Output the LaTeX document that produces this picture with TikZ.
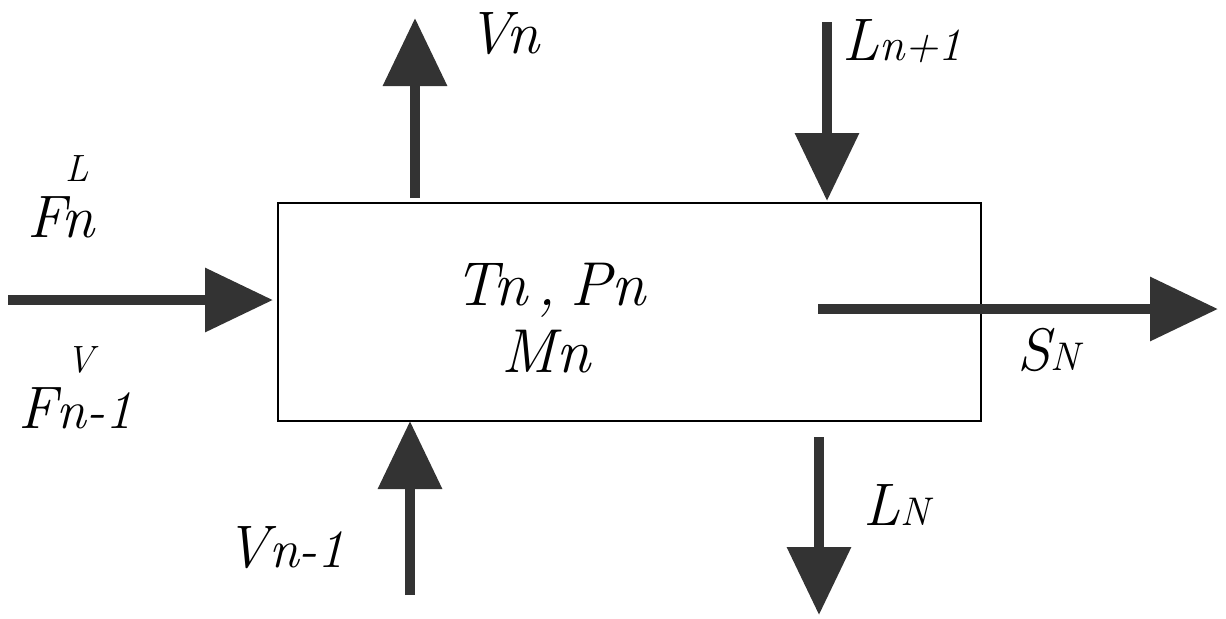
\documentclass[tikz,border=0pt]{standalone}
\usetikzlibrary{arrows.meta}
\definecolor{flowgray}{gray}{0.2}
\begin{document}
\begin{tikzpicture}[x=0.5pt,y=-0.5pt,
  flow/.style={draw=flowgray, line width=5pt, -{Triangle[length=34pt,width=31pt]}},
  boxst/.style={draw=black, line width=0.8pt, inner sep=0pt, minimum width=351.5pt, minimum height=109pt},
  lbl/.style={font=\fontsize{30}{34}\selectfont\itshape, inner sep=0pt, anchor=base west},
  sup/.style={font=\fontsize{19}{21}\selectfont\itshape, inner sep=0pt, anchor=base west},
  mid/.style={font=\fontsize{31}{34}\selectfont\itshape, inner sep=0pt, anchor=base}
]
\path[use as bounding box] (0,0) rectangle (1226,618);
% box
\node[boxst] (box) at (629.5,312) {};
% coordinates
\coordinate (vnS) at (415,198);
\coordinate (vnE) at (415,18);
\coordinate (lnS) at (827,22);
\coordinate (lnE) at (827,201);
\coordinate (fS) at (8,300);
\coordinate (fE) at (273,300);
\coordinate (vmS) at (410,595);
\coordinate (vmE) at (410,421);
\coordinate (lNS) at (819,437);
\coordinate (lNE) at (819,615);
\coordinate (sS) at (818,309);
\coordinate (sE) at (1218,309);
% arrows
\draw[flow] (vnS) -- (vnE);
\draw[flow] (lnS) -- (lnE);
\draw[flow] (fS) -- (fE);
\draw[flow] (vmS) -- (vmE);
\draw[flow] (lNS) -- (lNE);
\draw[flow] (sS) -- (sE);
% labels
\node[lbl] (tVn) at (467,53) {Vn};
\node[lbl] (tLn1) at (842,60) {L{\fontsize{23}{25}\selectfont n+1}};
\node[lbl] (tFn) at (27,237) {Fn};
\node[sup] (tFL) at (65,181) {L};
\node[lbl] (tFm) at (18,428) {F{\fontsize{27}{30}\selectfont n-1}};
\node[sup] (tFV) at (66,372) {V};
\node[mid] (tTP) at (550,305) {Tn\hspace{5pt},\hspace{7pt}Pn};
\node[mid] (tMn) at (546,372) {Mn};
\node[lbl] (tSN) at (1017,370) {S{\fontsize{20}{22}\selectfont N}};
\node[lbl] (tLN) at (863,525) {L{\fontsize{20}{22}\selectfont N}};
\node[lbl] (tVm) at (225,567) {V{\fontsize{27}{30}\selectfont n-1}};
\end{tikzpicture}
\end{document}
